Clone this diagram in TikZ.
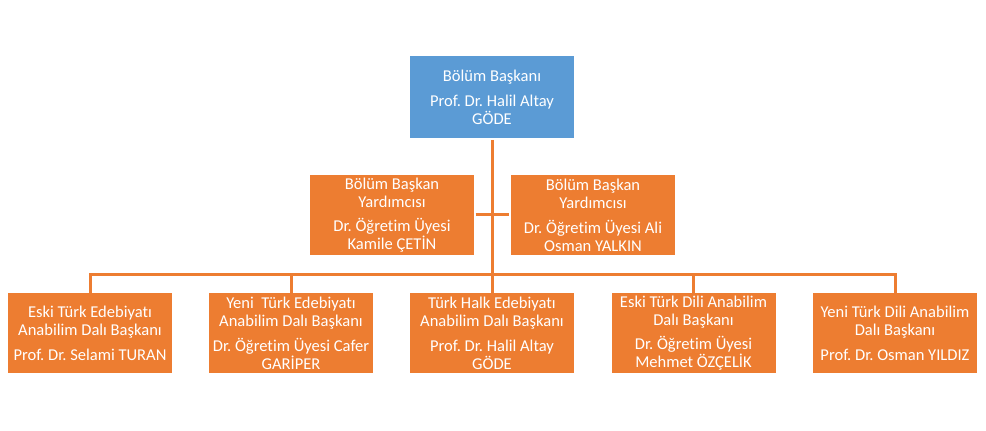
\documentclass[tikz,border=0pt]{standalone}
\usepackage{fontspec}
\setmainfont{Carlito}[Ligatures=NoCommon]
\frenchspacing
\definecolor{boxblue}{RGB}{91,155,213}
\definecolor{boxorange}{RGB}{237,125,49}
\tikzset{
  unit/.style={rectangle, text=white, align=center, font=\fontsize{12.4}{13.5}\selectfont,
    minimum width=123pt, minimum height=60pt, inner sep=0pt},
  link/.style={draw=boxorange, line width=2.25pt}
}
\begin{document}
\begin{tikzpicture}[x=0.75pt,y=-0.75pt]

        \useasboundingbox (0,0) rectangle (986,431);

        \coordinate (bus) at (492,275);

        \begin{scope}[every node/.style={unit, fill=boxorange}]
          \node[fill=boxblue, minimum height=61pt] (h) at (492,97)
            {Bölüm Başkanı\\[5pt]Prof. Dr. Halil Altay\\GÖDE};
          \node (y1) at (392,215) {Bölüm Başkan\\Yardımcısı\\[5pt]Dr. Öğretim Üyesi\\Kamile ÇETİN};
          \node (y2) at (593,215) {Bölüm Başkan\\Yardımcısı\\[5pt]Dr. Öğretim Üyesi Ali\\Osman YALKIN};
          \node (1) at (90,333)  {Eski Türk Edebiyatı\\Anabilim Dalı Başkanı\\[5pt]Prof. Dr. Selami TURAN};
          \node (2) at (291,333) {Yeni\ \ Türk Edebiyatı\\Anabilim Dalı Başkanı\\[5pt]Dr. Öğretim Üyesi Cafer\\GARİPER};
          \node (3) at (492,333) {Türk Halk Edebiyatı\\Anabilim Dalı Başkanı\\[5pt]Prof. Dr. Halil Altay\\GÖDE};
          \node (4) at (693.5,333) {Eski Türk Dili Anabilim\\Dalı Başkanı\\[5pt]Dr. Öğretim Üyesi\\Mehmet ÖZÇELİK};
          \node (5) at (895,333) {Yeni Türk Dili Anabilim\\Dalı Başkanı\\[5pt]Prof. Dr. Osman YILDIZ};
        \end{scope}

        \path[link] ([yshift=-1.5pt]h.south) -- (bus);
        \path[link] ([xshift=1.1pt]y1.east) -- ([xshift=-1.1pt]y2.west);
        \path[link] (1.north) -- (1.north |- bus) -- (5.north |- bus) -- (5.north);
        \foreach \n in {2,3,4}
          \path[link] (\n.north) -- (\n.north |- bus);

      \end{tikzpicture}
\end{document}
